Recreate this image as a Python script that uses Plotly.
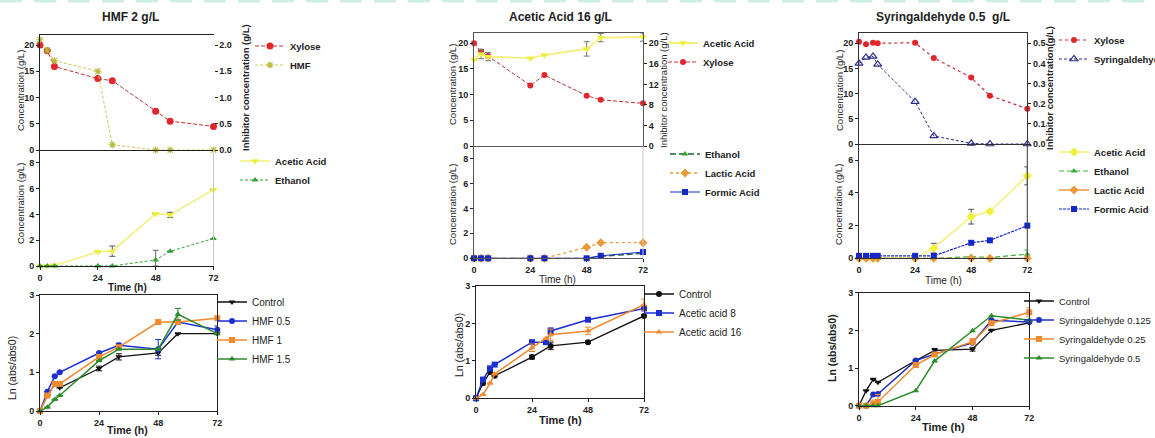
import plotly.graph_objects as go

W, H = 1155, 438
FONT = "Liberation Sans, Arial, Helvetica, sans-serif"

# ---------------- HMF 2 g/L ----------------
hmf_t = [0, 3, 6, 24, 30, 48, 54, 72]
hmf_xylose = [20.0, 18.9, 15.9, 13.6, 13.2, 7.4, 5.5, 4.5]
hmf_hmf = [2.1, 1.9, 1.7, 1.5, 0.1, 0.0, 0.0, 0.0]
hmf_acetic = [0.0, 0.0, 0.05, 1.1, 1.15, 4.05, 3.97, 5.92]
hmf_acetic_err = [0, 0, 0, 0, 0.4, 0, 0.2, 0]
hmf_ethanol = [0, 0, 0, 0, 0, 0.47, 1.14, 2.13]
hmf_ethanol_err = [0, 0, 0, 0, 0, 0.75, 0, 0]
hmf_ethanol_errm = [0, 0, 0, 0, 0, 0.47, 0, 0]

hmf_growth_t = [0, 3, 6, 8, 24, 32, 48, 56, 72]
hmf_control = [0, 0.4, 0.7, 0.6, 1.1, 1.4, 1.5, 2.0, 2.0]
hmf_control_err = [0, 0, 0, 0, 0.06, 0.08, 0.06, 0, 0]
hmf_05 = [0, 0.5, 0.9, 1.0, 1.5, 1.7, 1.6, 2.3, 2.1]
hmf_05_err = [0, 0, 0, 0, 0, 0.05, 0.25, 0.05, 0.1]
hmf_1 = [0, 0.4, 0.7, 0.7, 1.4, 1.65, 2.3, 2.3, 2.4]
hmf_1_err = [0, 0, 0, 0, 0, 0, 0.06, 0.05, 0]
hmf_15 = [0, 0.1, 0.3, 0.4, 1.3, 1.6, 1.6, 2.5, 2.0]
hmf_15_err = [0, 0, 0, 0, 0, 0, 0, 0.15, 0]

# ---------------- Acetic Acid 16 g/L ----------------
aa_t = [0, 3, 6, 24, 30, 48, 54, 72]
aa_xylose = [20.0, 18.4, 17.5, 11.8, 13.8, 9.8, 9.0, 8.3]
aa_acetic = [16.8, 17.9, 17.4, 17.1, 17.7, 18.9, 21.1, 21.2]
aa_acetic_err = [0, 0.9, 0.8, 0, 0, 1.4, 0.8, 0.8]
aa_ethanol = [0, 0, 0, 0, 0, 0, 0.15, 0.4]
aa_lactic = [0, 0, 0, 0, 0, 0.88, 1.25, 1.25]
aa_formic = [0, 0, 0, 0, 0, 0, 0.2, 0.5]
aa_formic_err = [0, 0, 0, 0, 0, 0, 0, 0.15]

aa_growth_t = [0, 3, 6, 8, 24, 30, 32, 48, 72]
aa_control = [0, 0.4, 0.7, 0.6, 1.1, None, 1.4, 1.5, 2.2]
aa_control_err = [0, 0, 0, 0, 0.05, 0, 0.1, 0.03, 0.04]
aa_8 = [0, 0.5, 0.8, 0.9, 1.5, 1.5, 1.8, 2.1, 2.4]
aa_8_err = [0, 0, 0, 0, 0, 0, 0.08, 0, 0]
aa_16 = [0, 0.1, 0.4, 0.65, 1.35, 1.6, 1.7, 1.8, 2.5]
aa_16_err = [0, 0, 0, 0, 0.1, 0, 0.15, 0.1, 0.15]

# ---------------- Syringaldehyde 0.5 g/L ----------------
syr_t = [0, 3, 6, 8, 24, 32, 48, 56, 72]
syr_xylose = [20.3, 19.8, 20.1, 20.0, 20.1, 17.1, 13.2, 9.6, 7.0]
syr_syr = [0.40, 0.43, 0.435, 0.395, 0.21, 0.04, 0.003, 0.0, 0.0]
syr_acetic = [0, 0, 0, 0, 0, 0.62, 2.55, 2.87, 5.05]
syr_acetic_err = [0, 0, 0, 0, 0, 0.3, 0.45, 0, 0.55]
syr_ethanol = [0, 0, 0, 0, 0, 0, 0.1, 0.05, 0.25]
syr_ethanol_err = [0, 0, 0, 0, 0, 0, 0, 0, 0.25]
syr_lactic = [0, 0, 0, 0, 0, 0, 0, 0, 0]
syr_formic = [0.15, 0.15, 0.15, 0.15, 0.15, 0.15, 0.95, 1.1, 2.0]

syr_control = [0, 0.4, 0.7, 0.62, 1.2, 1.47, 1.5, 2.0, 2.2]
syr_control_err = [0, 0, 0, 0, 0, 0.05, 0.05, 0, 0]
syr_0125 = [0, 0, 0.3, 0.31, 1.2, 1.37, 1.67, 2.27, 2.22]
syr_025 = [0, 0, 0.05, 0.1, 1.08, 1.36, 1.7, 2.19, 2.48]
syr_025_err = [0, 0, 0.1, 0.2, 0, 0, 0.08, 0, 0.12]
syr_05 = [0, 0, 0, 0, 0.4, 1.19, 1.99, 2.39, 2.27]

TIME_TICKS = [0, 24, 48, 72]
TICK_FONT = dict(family=FONT, size=9, color="#222", weight="bold")


def xp(px):
    return px / W


def yp(py):
    return 1 - py / H


fig = go.Figure()
layout = dict(
    width=W, height=H,
    margin=dict(l=0, r=0, t=0, b=0, autoexpand=False),
    paper_bgcolor="white", plot_bgcolor="rgba(0,0,0,0)",
    font=dict(family=FONT, color="#222"),
    showlegend=True,
)


def axis(**kw):
    d = dict(showgrid=False, zeroline=False, fixedrange=True, ticks="outside",
             ticklen=3, tickwidth=1, tickcolor="#222", tickfont=TICK_FONT,
             showline=True, linewidth=1, linecolor="#222")
    d.update(kw)
    return d


def key(kind, n):
    return kind + ("axis" if n == 1 else "axis%d" % n)


def ref(kind, n):
    return kind if n == 1 else "%s%d" % (kind, n)


panels = [
    dict(x_top=(40, 213.5), y_top=(34.5, 150), y_mid=(150, 266),
         x_bot=(40, 217.3), y_bot=(295, 411),
         right_range=[0, 2.2], right_ticks=[0, 0.5, 1.0, 1.5, 2.0], right_fmt=".1f",
         mid_range=[0, 9], mid_ticks=[0, 2, 4, 6, 8],
         frame="#222", right_line=False, mid_right="#c8c8c8"),
    dict(x_top=(474, 643), y_top=(33, 146), y_mid=(146, 258.3),
         x_bot=(476, 644), y_bot=(286, 398.3),
         right_range=[0, 22], right_ticks=[0, 4, 8, 12, 16, 20], right_fmt="d",
         mid_range=[0, 9], mid_ticks=[0, 2, 4, 6, 8],
         frame="#555", right_line=True, mid_right="#c8c8c8"),
    dict(x_top=(859, 1027.3), y_top=(33.2, 144), y_mid=(144, 258.3),
         x_bot=(859, 1029.3), y_bot=(292.7, 405.7),
         right_range=[0, 0.55], right_ticks=[0, 0.1, 0.2, 0.3, 0.4, 0.5], right_fmt=".1f",
         mid_range=[0, 7], mid_ticks=[0, 2, 4, 6],
         frame="#333", right_line=True, mid_right="#333"),
]

shapes = []
for i, p in enumerate(panels):
    xt, xm, xb = 3 * i + 1, 3 * i + 2, 3 * i + 3
    yt, yr, ym, yb = 4 * i + 1, 4 * i + 2, 4 * i + 3, 4 * i + 4
    p["refs"] = dict(xt=ref("x", xt), xm=ref("x", xm), xb=ref("x", xb),
                     yt=ref("y", yt), yr=ref("y", yr), ym=ref("y", ym), yb=ref("y", yb))
    # top plot: fermentation substrate + inhibitor
    layout[key("x", xt)] = axis(domain=[xp(p["x_top"][0]), xp(p["x_top"][1])], range=[0, 72],
                                anchor=ref("y", yt), showticklabels=False, ticks="",
                                mirror=True, linecolor=p["frame"])
    layout[key("y", yt)] = axis(domain=[yp(p["y_top"][1]), yp(p["y_top"][0])], range=[0, 22],
                                tickvals=[0, 5, 10, 15, 20], anchor=ref("x", xt),
                                linecolor=p["frame"])
    layout[key("y", yr)] = axis(range=p["right_range"], tickvals=p["right_ticks"],
                                tickformat=p["right_fmt"], overlaying=ref("y", yt),
                                side="right", anchor=ref("x", xt),
                                showline=p["right_line"], linecolor=p["frame"])
    # middle plot: by-products
    layout[key("x", xm)] = axis(domain=[xp(p["x_top"][0]), xp(p["x_top"][1])], range=[0, 72],
                                anchor=ref("y", ym), tickvals=TIME_TICKS, linecolor=p["frame"])
    layout[key("y", ym)] = axis(domain=[yp(p["y_mid"][1]), yp(p["y_mid"][0])],
                                range=p["mid_range"], tickvals=p["mid_ticks"],
                                anchor=ref("x", xm), linecolor=p["frame"])
    shapes.append(dict(type="line", xref="paper", yref="paper",
                       x0=xp(p["x_top"][1]), x1=xp(p["x_top"][1]),
                       y0=yp(p["y_mid"][1]), y1=yp(p["y_mid"][0]),
                       line=dict(color=p["mid_right"], width=1)))
    # bottom plot: growth
    layout[key("x", xb)] = axis(domain=[xp(p["x_bot"][0]), xp(p["x_bot"][1])], range=[0, 72],
                                anchor=ref("y", yb), tickvals=TIME_TICKS, mirror=True)
    layout[key("y", yb)] = axis(domain=[yp(p["y_bot"][1]), yp(p["y_bot"][0])], range=[0, 3],
                                tickvals=[0, 1, 2, 3], anchor=ref("x", xb), mirror=True)

# faint dashed band along the top edge
shapes.append(dict(type="line", xref="paper", yref="paper", x0=0, x1=1, y0=yp(1), y1=yp(1),
                   line=dict(color="#cdeee5", width=3, dash="22px,12px")))


def add(x, y, name, xa, ya, leg, color, symbol, size=6, dash="solid", lw=1.2,
        lcolor=None, err=None, errm=None, ecolor="#444", mline=0, mode="lines+markers"):
    kw = {}
    if err is not None:
        kw["error_y"] = dict(type="data", array=err,
                             arrayminus=errm if errm is not None else err,
                             color=ecolor, thickness=1, width=3, visible=True)
    fig.add_trace(go.Scatter(
        x=x, y=y, name=name, xaxis=xa, yaxis=ya, legend=leg, mode=mode,
        cliponaxis=False, connectgaps=True,
        marker=dict(symbol=symbol, size=size, color=color,
                    line=dict(width=mline, color=color)),
        line=dict(color=lcolor or color, width=lw, dash=dash), **kw))


RED = "#e0262c"
YELLOW = "#f0ef3a"
YLINE = "#f2ef7a"
GREEN = "#36a336"
BLACK = "#111111"
BLUE = "#1d2fd2"
ORANGE = "#f08a2e"
LORANGE = "#e99a3c"

# ---- HMF panel ----
r = panels[0]["refs"]
add(hmf_t, hmf_xylose, "Xylose", r["xt"], r["yt"], "legend", RED, "circle", 7,
    dash="4px,2px", lcolor="#b8333a", lw=1)
add(hmf_t, hmf_hmf, "HMF", r["xt"], r["yr"], "legend", "#b9b93a", "asterisk-open", 6,
    dash="3px,2px", lcolor="#c9c95a", lw=1, mline=1.2)
add(hmf_t, hmf_acetic, "Acetic Acid", r["xm"], r["ym"], "legend2", YELLOW, "triangle-down", 7,
    lcolor=YLINE, lw=1.5, err=hmf_acetic_err, ecolor="#555")
add(hmf_t, hmf_ethanol, "Ethanol", r["xm"], r["ym"], "legend2", GREEN, "triangle-up", 6,
    dash="3px,2px", lw=1, err=hmf_ethanol_err, errm=hmf_ethanol_errm, ecolor="#666")
add(hmf_growth_t, hmf_control, "Control", r["xb"], r["yb"], "legend3", BLACK, "triangle-down", 6,
    lw=1.3, err=hmf_control_err, ecolor=BLACK)
add(hmf_growth_t, hmf_05, "HMF 0.5", r["xb"], r["yb"], "legend3", BLUE, "circle", 6,
    lw=1.5, err=hmf_05_err, ecolor=BLUE)
add(hmf_growth_t, hmf_1, "HMF 1", r["xb"], r["yb"], "legend3", ORANGE, "square", 6,
    lw=1.5, err=hmf_1_err, ecolor=ORANGE)
add(hmf_growth_t, hmf_15, "HMF 1.5", r["xb"], r["yb"], "legend3", "#2c8c2c", "triangle-up", 6,
    lw=1.5, err=hmf_15_err, ecolor="#2c8c2c")

# ---- Acetic acid panel ----
r = panels[1]["refs"]
add(aa_t, aa_acetic, "Acetic Acid", r["xt"], r["yr"], "legend4", YELLOW, "triangle-down", 7,
    lcolor=YLINE, lw=1.8, err=aa_acetic_err, ecolor="#777")
add(aa_t, aa_xylose, "Xylose", r["xt"], r["yt"], "legend4", RED, "circle", 6,
    dash="4px,2px", lcolor="#b8333a", lw=1)
add(aa_t, aa_ethanol, "Ethanol", r["xm"], r["ym"], "legend5", GREEN, "triangle-up", 6,
    dash="6px,3px", lcolor="#1f5f3a", lw=1.3)
add(aa_t, aa_lactic, "Lactic Acid", r["xm"], r["ym"], "legend5", LORANGE, "diamond", 7,
    dash="dot", lw=1.3)
add(aa_t, aa_formic, "Formic Acid", r["xm"], r["ym"], "legend5", "#1428c8", "square", 6,
    lw=1, err=aa_formic_err, ecolor="#1428c8")
add(aa_growth_t, aa_control, "Control", r["xb"], r["yb"], "legend6", BLACK, "circle", 6,
    lw=1.3, err=aa_control_err, ecolor=BLACK)
add(aa_growth_t, aa_8, "Acetic acid 8", r["xb"], r["yb"], "legend6", BLUE, "square", 6,
    lw=1.5, err=aa_8_err, ecolor=BLUE)
add(aa_growth_t, aa_16, "Acetic acid 16", r["xb"], r["yb"], "legend6", ORANGE, "triangle-up", 6,
    lw=1.5, err=aa_16_err, ecolor=ORANGE)

# ---- Syringaldehyde panel ----
r = panels[2]["refs"]
add(syr_t, syr_xylose, "Xylose", r["xt"], r["yt"], "legend7", RED, "circle", 6,
    dash="dot", lcolor="#c0333a", lw=1.2)
add(syr_t, syr_syr, "Syringaldehyde", r["xt"], r["yr"], "legend7", "#2b2b8a", "triangle-up-open", 7,
    dash="3px,2px", lcolor="#2b2b8a", lw=1, mline=1.2)
add(syr_t, syr_acetic, "Acetic Acid", r["xm"], r["ym"], "legend8", YELLOW, "diamond", 7,
    lcolor=YLINE, lw=1.5, err=syr_acetic_err, ecolor="#555")
add(syr_t, syr_ethanol, "Ethanol", r["xm"], r["ym"], "legend8", "#3cb03c", "triangle-up", 6,
    dash="5px,3px", lw=1.2, err=syr_ethanol_err, ecolor="#3cb03c")
add(syr_t, syr_lactic, "Lactic Acid", r["xm"], r["ym"], "legend8", LORANGE, "diamond", 7,
    lw=1.3)
add(syr_t, syr_formic, "Formic Acid", r["xm"], r["ym"], "legend8", "#1428c8", "square", 6,
    dash="3px,1px", lw=1.2)
add(syr_t, syr_control, "Control", r["xb"], r["yb"], "legend9", BLACK, "triangle-down", 6,
    lw=1.3, err=syr_control_err, ecolor=BLACK)
add(syr_t, syr_0125, "Syringaldehyde 0.125", r["xb"], r["yb"], "legend9", "#1f2fbf", "circle", 6,
    lw=1.5)
add(syr_t, syr_025, "Syringaldehyde 0.25", r["xb"], r["yb"], "legend9", ORANGE, "square", 6,
    lw=1.5, err=syr_025_err, ecolor=ORANGE)
add(syr_t, syr_05, "Syringaldehyde 0.5", r["xb"], r["yb"], "legend9", "#2c8c2c", "triangle-up", 6,
    lw=1.5)

# ---- legends ----
BOLD_LEG = dict(family=FONT, size=9.5, color="#222", weight="bold")
PLAIN_LEG = dict(family=FONT, size=10, color="#222")
NARROW_LEG = dict(family=FONT, size=9.5, color="#222")
legend_spots = [
    ("legend", 288, 46, BOLD_LEG), ("legend2", 273, 161, BOLD_LEG), ("legend3", 250, 302, PLAIN_LEG),
    ("legend4", 701, 43, BOLD_LEG), ("legend5", 703, 154, BOLD_LEG), ("legend6", 677, 294, PLAIN_LEG),
    ("legend7", 1092, 40, BOLD_LEG), ("legend8", 1092, 152, BOLD_LEG), ("legend9", 1057, 301, NARROW_LEG),
]
for name, tx, cy, f in legend_spots:
    layout[name] = dict(x=xp(tx - 38), y=yp(cy - 14.5), xanchor="left", yanchor="top",
                        bgcolor="rgba(0,0,0,0)", borderwidth=0, font=f,
                        itemwidth=30, tracegroupgap=0, traceorder="normal")

# ---- titles and axis labels ----
ann = []


def label(text, x, y, size=9.5, bold=False, angle=0):
    ann.append(dict(text=text, x=xp(x), y=yp(y), xref="paper", yref="paper",
                    showarrow=False, textangle=angle, xanchor="center", yanchor="middle",
                    font=dict(family=FONT, size=size, color="#222",
                              weight="bold" if bold else "normal")))


label("HMF 2 g/L", 130, 17, 12, True)
label("Acetic Acid 16 g/L", 560, 17, 12, True)
label("Syringaldehyde 0.5  g/L", 943, 17, 12, True)

label("Concentration (g/L)", 20, 91, 9.5, False, -90)
label("Concentration (g/L)", 20, 204, 9.5, False, -90)
label("Inhibitor concentration (g/L)", 245, 88, 9.5, True, -90)
label("Time (h)", 127, 287, 10, True)
label("Ln (abs/abs0)", 12, 368, 10.5, False, -90)
label("Time (h)", 127, 430, 10.5, True)

label("Concentration (g/L)", 453, 85, 9.5, False, -90)
label("Concentration (g/L)", 453, 205, 9.5, False, -90)
label("Inhibitor concentration (g/L)", 664, 90, 9.5, False, -90)
label("Time (h)", 557, 279, 10, False)
label("Ln (abs/abs0)", 459, 345, 10.5, False, -90)
label("Time (h)", 560, 420, 11, True)

label("Concentration (g/L)", 839, 91, 9.5, False, -90)
label("Concentration (g/L)", 839, 205, 9.5, False, -90)
label("Inhibitor concentration(g/L)", 1049, 88, 9.5, True, -90)
label("Time (h)", 943, 280, 10, False)
label("Ln (abs/abs0)", 832, 348, 10.5, True, -90)
label("Time (h)", 943, 427, 11, True)

layout["annotations"] = ann
layout["shapes"] = shapes
fig.update_layout(**layout)
fig.write_html("out.html")
